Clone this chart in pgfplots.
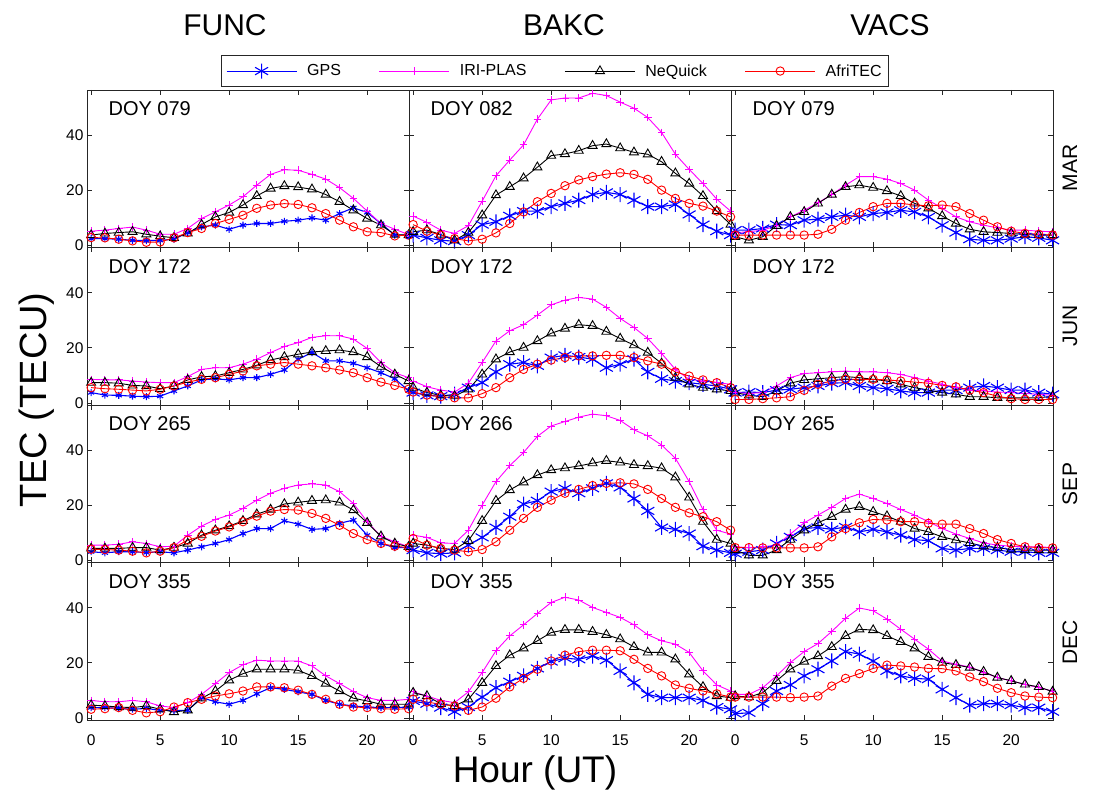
\documentclass[border=0pt]{standalone}
\usepackage{pgfplots}
\pgfplotsset{compat=1.18}
\usepackage{pgfplotstable}
\usepackage{fontspec}
\setmainfont{Liberation Sans}
\definecolor{mag}{RGB}{255,0,255}

\pgfplotstableread{
h g i n a
0 2.5 5.2 3.8 2.9
1 2.5 5.6 4.4 2.8
2 2.3 6.2 4.7 2.3
3 1.9 6.7 5.0 1.7
4 1.8 5.6 4.1 1.2
5 1.9 4.1 3.4 1.3
6 2.3 4.1 2.8 2.8
7 4.7 6.2 4.4 4.7
8 6.8 9.8 7.6 6.2
9 7.4 12.2 10.4 8.0
10 5.9 14.7 12.0 9.5
11 7.4 17.7 14.7 11.0
12 8.0 21.9 18.0 13.5
13 8.0 25.8 20.7 14.7
14 8.8 27.5 21.6 15.2
15 9.2 27.3 21.2 14.9
16 10.0 25.8 20.4 13.7
17 9.2 24.1 18.5 11.6
18 11.6 21.0 15.9 9.2
19 13.7 17.1 12.8 6.8
20 12.0 12.5 9.8 5.0
21 8.0 8.0 7.4 4.7
22 3.8 5.9 4.0 3.5
23 3.8 4.0 3.8 3.8
}\tFMar
\pgfplotstableread{
h g i n a
0 3.8 10.7 5.0 7.6
1 2.8 8.4 5.6 5.2
2 1.9 5.6 4.0 3.8
3 1.6 4.4 1.9 2.5
4 3.8 7.2 4.7 1.7
5 7.6 16.1 11.0 2.3
6 8.6 25.3 18.3 4.6
7 10.8 31.0 21.3 8.0
8 12.5 36.5 24.4 12.2
9 12.5 45.8 28.4 15.9
10 14.1 52.8 32.6 18.9
11 15.3 53.5 33.2 21.7
12 16.5 53.5 34.4 23.8
13 18.5 55.2 36.2 25.0
14 19.3 54.4 36.8 25.9
15 18.5 52.0 35.3 26.4
16 16.5 49.8 33.8 25.8
17 14.1 46.4 33.1 24.0
18 14.1 41.0 30.4 20.1
19 14.9 33.1 26.2 17.1
20 11.3 27.6 22.5 15.3
21 7.6 22.5 18.0 14.3
22 5.2 16.8 12.5 12.5
23 3.8 12.5 7.6 10.4
}\tBMar
\pgfplotstableread{
h g i n a
0 5.6 4.7 3.2 3.8
1 5.6 5.0 1.9 3.8
2 6.2 5.6 3.2 3.8
3 7.6 7.2 7.2 3.8
4 7.4 10.4 10.4 3.8
5 9.2 12.8 12.2 3.8
6 9.6 15.5 15.3 4.1
7 10.4 18.5 18.5 5.9
8 11.0 21.9 21.3 9.2
9 10.4 25.0 21.9 12.0
10 11.6 25.0 21.0 14.1
11 12.0 24.1 19.8 15.3
12 12.8 22.5 18.0 15.3
13 12.2 20.1 15.3 14.7
14 10.4 16.5 13.5 14.4
15 7.4 13.5 10.7 14.7
16 4.7 10.4 8.0 14.1
17 2.3 8.6 5.9 11.6
18 1.9 7.4 5.0 9.2
19 1.9 6.4 4.7 6.8
20 2.5 5.6 4.4 5.2
21 3.2 5.6 4.0 4.4
22 2.8 5.2 3.8 4.1
23 1.9 5.0 3.8 3.8
}\tVMar
\pgfplotstableread{
h g i n a
0 3.8 8.6 7.4 5.6
1 2.9 8.4 7.4 5.2
2 2.8 8.4 7.2 5.0
3 2.5 8.0 6.4 4.7
4 2.3 7.6 6.2 4.4
5 2.5 7.4 5.2 5.0
6 4.4 7.4 6.2 6.2
7 6.2 9.6 8.4 7.6
8 8.4 12.2 9.5 8.6
9 8.8 12.8 9.8 9.2
10 8.4 12.8 11.0 10.4
11 9.2 14.1 12.2 11.6
12 9.2 15.9 13.7 13.5
13 10.4 18.3 15.6 14.1
14 12.0 20.5 16.7 14.7
15 15.9 21.9 17.7 14.1
16 18.3 23.8 18.5 13.5
17 15.3 24.4 18.9 12.8
18 15.3 24.4 19.2 12.0
19 14.4 23.2 18.5 11.0
20 12.8 19.8 16.7 9.2
21 11.0 14.7 13.2 7.6
22 8.8 11.0 10.4 6.4
23 4.5 9.2 8.0 5.0
}\tFJun
\pgfplotstableread{
h g i n a
0 3.8 8.0 5.6 4.0
1 2.8 5.9 3.8 2.9
2 2.5 4.7 2.8 2.3
3 3.2 4.0 2.5 1.9
4 5.6 7.2 5.0 1.9
5 7.4 14.7 10.4 3.4
6 11.3 22.5 15.9 5.6
7 14.1 26.2 18.5 9.2
8 14.7 28.4 20.1 12.2
9 13.5 31.9 22.5 14.1
10 16.5 35.6 25.3 15.6
11 17.3 37.3 27.0 16.5
12 16.7 38.3 28.4 17.1
13 15.9 37.7 28.0 17.1
14 12.8 34.7 25.9 17.3
15 14.1 30.7 23.4 17.3
16 15.9 27.4 21.0 16.5
17 11.3 23.4 18.3 15.3
18 8.8 18.0 14.4 14.1
19 8.0 12.2 9.2 11.3
20 7.4 8.6 6.8 9.8
21 6.8 8.0 5.6 8.4
22 6.2 7.4 5.0 7.4
23 5.0 6.8 4.4 5.6
}\tBJun
\pgfplotstableread{
h g i n a
0 3.8 3.8 3.8 1.3
1 4.0 3.5 2.8 1.3
2 3.8 3.8 2.3 1.6
3 4.7 6.2 4.4 1.9
4 5.0 9.2 7.2 2.3
5 5.6 10.7 8.4 4.6
6 6.2 11.0 8.8 6.8
7 7.2 11.3 9.2 8.0
8 7.4 11.6 9.6 8.6
9 6.2 11.3 9.2 8.6
10 5.6 11.3 8.6 8.6
11 5.2 11.0 8.0 8.4
12 4.4 10.4 6.8 8.0
13 3.8 9.2 5.6 7.6
14 3.8 8.0 4.7 7.2
15 4.7 6.8 3.8 6.4
16 4.7 5.6 3.2 5.9
17 5.6 4.7 2.3 4.7
18 6.2 4.4 2.3 3.8
19 5.6 4.0 1.9 2.5
20 4.7 3.8 1.9 1.6
21 4.7 3.5 1.9 1.3
22 3.8 3.2 1.9 1.3
23 3.2 2.8 2.5 1.3
}\tVJun
\pgfplotstableread{
h g i n a
0 3.2 5.6 4.4 4.1
1 2.8 5.6 4.4 4.0
2 3.2 5.9 4.4 3.8
3 3.2 6.8 4.7 3.4
4 2.9 6.2 4.7 2.8
5 3.2 5.0 3.8 3.4
6 2.8 5.2 4.7 4.7
7 3.8 9.2 6.2 7.4
8 5.0 12.5 9.2 8.8
9 6.2 14.9 11.0 10.7
10 7.6 16.5 12.5 12.2
11 9.8 18.9 14.4 14.1
12 11.6 21.9 16.8 16.1
13 11.6 24.4 18.5 17.9
14 14.4 26.2 20.5 18.5
15 13.2 27.4 21.1 18.3
16 11.3 27.8 21.7 17.1
17 11.6 27.4 21.9 15.3
18 13.5 25.0 21.1 12.8
19 14.7 20.7 18.3 9.8
20 9.2 14.1 13.7 7.6
21 6.2 8.8 8.8 6.2
22 4.7 6.8 6.2 5.2
23 4.7 5.0 5.0 4.7
}\tFSep
\pgfplotstableread{
h g i n a
0 3.8 9.2 6.2 8.0
1 2.8 8.4 5.6 5.6
2 2.5 6.4 4.4 4.4
3 2.8 6.2 4.0 3.8
4 5.6 11.0 7.2 3.2
5 8.4 20.1 14.4 4.0
6 12.0 28.6 21.7 6.8
7 15.9 34.4 25.6 11.0
8 20.5 39.2 28.4 15.3
9 21.7 45.0 31.0 19.3
10 25.0 48.8 32.8 21.9
11 26.2 50.4 33.5 24.4
12 24.4 52.0 34.3 25.8
13 26.2 53.1 35.3 27.2
14 28.0 52.5 36.2 28.0
15 26.5 50.8 35.6 28.2
16 22.5 47.4 34.7 27.8
17 18.0 45.2 34.3 25.8
18 12.0 41.9 33.5 22.5
19 11.3 37.1 30.2 19.3
20 9.8 28.6 22.9 17.3
21 5.2 18.5 14.1 15.9
22 3.8 11.0 7.6 14.1
23 2.8 9.6 6.2 11.0
}\tBSep
\pgfplotstableread{
h g i n a
0 2.5 5.0 3.8 4.7
1 3.2 4.7 1.9 4.7
2 3.8 5.0 1.9 4.6
3 6.2 5.6 3.8 4.6
4 8.6 9.6 7.6 4.6
5 11.6 13.7 11.0 4.6
6 12.0 16.5 13.7 5.0
7 11.3 19.3 15.9 8.6
8 12.2 22.5 18.5 11.6
9 10.4 24.1 19.5 13.7
10 11.3 22.5 17.7 14.9
11 10.4 20.7 16.1 14.7
12 9.2 18.5 14.1 14.1
13 7.6 16.5 11.6 14.1
14 7.2 14.1 10.4 13.5
15 4.4 11.6 8.6 13.2
16 3.8 9.6 7.4 13.2
17 4.4 8.0 6.4 11.6
18 4.4 6.4 5.2 9.8
19 3.8 5.6 4.7 7.6
20 3.2 5.2 4.0 6.2
21 3.2 5.0 3.8 5.0
22 2.8 5.0 3.8 4.7
23 2.8 4.7 3.8 4.6
}\tVSep
\pgfplotstableread{
h g i n a
0 3.8 6.4 4.7 3.2
1 3.8 5.9 4.4 3.4
2 3.5 5.9 4.0 3.8
3 3.2 6.4 3.8 2.8
4 3.5 5.9 4.4 1.9
5 2.8 4.4 3.2 2.3
6 2.8 3.8 2.2 4.0
7 2.8 5.6 2.8 5.6
8 7.4 8.6 7.2 6.8
9 5.9 12.5 9.8 8.0
10 5.0 16.5 13.7 8.8
11 6.4 19.3 16.1 9.8
12 8.8 21.0 17.7 11.3
13 11.0 20.7 17.7 11.3
14 10.4 20.7 17.7 11.0
15 9.5 20.7 17.3 10.1
16 8.6 18.9 15.3 8.6
17 6.4 15.3 12.5 6.8
18 5.0 12.5 9.8 5.0
19 4.4 9.6 7.2 4.0
20 4.0 7.4 6.2 3.8
21 3.8 6.4 5.0 3.4
22 3.8 6.4 5.0 3.2
23 4.0 6.8 5.0 3.4
}\tFDec
\pgfplotstableread{
h g i n a
0 6.2 9.5 9.2 6.8
1 5.2 8.0 8.0 5.8
2 3.8 6.4 5.2 5.0
3 2.3 5.6 4.4 4.4
4 4.0 9.5 6.8 2.8
5 7.6 16.5 12.8 4.0
6 11.0 24.4 18.9 7.2
7 13.2 29.8 22.8 11.3
8 15.3 33.8 25.3 14.4
9 18.0 37.9 28.0 17.7
10 20.5 41.9 31.0 20.7
11 21.7 43.8 32.0 22.8
12 21.3 42.8 32.0 24.1
13 22.5 40.1 31.3 24.6
14 21.0 38.3 30.2 24.6
15 17.1 36.5 28.6 24.4
16 12.8 33.8 25.8 21.3
17 8.6 30.2 23.8 18.0
18 7.4 28.0 23.8 15.3
19 7.4 26.8 21.3 12.0
20 7.4 23.8 15.9 10.8
21 6.4 17.1 11.3 9.8
22 4.0 12.0 8.0 8.8
23 3.2 9.8 7.4 7.6
}\tBDec
\pgfplotstableread{
h g i n a
0 1.6 8.6 8.0 7.6
1 1.9 8.6 7.6 7.6
2 5.2 11.0 9.2 7.6
3 9.8 15.3 13.5 7.6
4 12.0 20.1 17.7 7.4
5 15.3 24.1 20.5 7.6
6 17.7 27.0 22.5 8.0
7 20.7 31.4 25.8 11.6
8 24.1 36.2 29.8 14.4
9 23.2 39.9 32.2 16.1
10 20.7 38.9 31.9 18.0
11 17.1 35.9 29.8 19.2
12 15.3 32.2 27.6 18.9
13 14.4 28.6 25.3 18.5
14 14.1 25.0 22.2 18.0
15 10.4 20.7 20.1 17.9
16 7.4 19.5 19.3 17.1
17 4.7 18.5 18.3 14.9
18 5.2 16.5 16.8 13.2
19 5.2 14.7 14.7 10.8
20 4.7 13.5 13.5 9.2
21 3.8 12.2 12.2 8.0
22 3.8 11.0 11.3 7.6
23 2.3 9.8 9.6 7.4
}\tVDec

\pgfplotsset{
  panel/.style={
    anchor=south west, scale only axis, width=322pt, height=157.5pt,
    xmin=-0.3, xmax=23.03, ymin=-0.7, ymax=56.4,
    xtick={0,5,10,15,20}, ytick={0,20,40},
    tick align=inside, major tick length=5pt,
    xticklabels={}, yticklabels={},
    axis line style={line width=0.9pt, black!85},
    every tick/.style={line width=0.9pt, black!85},
    ticklabel style={font=\fontsize{15.5}{15.5}\selectfont},
    xticklabel style={yshift=-11pt},
    /pgf/number format/assume math mode=true,
  },
  xlab/.style={xticklabels={0,5,10,15,20}},
  ylab/.style={yticklabels={0,20,40}},
  gps/.style={blue, line width=1.1pt, mark=asterisk, mark size=#1, mark options={solid, line width=1.1pt}},
  iri/.style={mag, line width=0.9pt, mark=+, mark size=3.8pt, mark options={solid, line width=0.9pt}},
  neq/.style={black, line width=0.9pt, mark=triangle, mark size=5.2pt, mark options={solid, line width=0.9pt}},
  afr/.style={red, line width=0.9pt, mark=o, mark size=4.2pt, mark options={solid, line width=0.9pt}},
  withlegend/.style={
    legend entries={GPS,IRI-PLAS,NeQuick,AfriTEC},
    legend columns=4,
    legend image code/.code={\draw[mark repeat=2,mark phase=2,##1] plot coordinates {(0pt,0pt) (35pt,0pt) (70pt,0pt)};},
    legend style={at={(0.453,1.019)}, anchor=south, draw=black!85, line width=0.8pt,
      font=\fontsize{16}{16}\selectfont, inner xsep=5pt, inner ysep=7pt,
      /tikz/every even column/.append style={column sep=36pt},
      /tikz/every odd column/.append style={column sep=8pt}},
  },
}

\newcommand{\panel}[6]{%
\begin{axis}[panel, at={(#1pt,#2pt)}, #5]
\addplot[gps=#6] table[x=h,y=g]{#3};
\addplot[iri] table[x=h,y=i]{#3};
\addplot[neq] table[x=h,y=n]{#3};
\addplot[afr] table[x=h,y=a]{#3};
\node[anchor=west, font=\fontsize{20}{20}\selectfont] at (rel axis cs:0.056,0.879) {DOY #4};
\end{axis}}

\begin{document}
\begin{tikzpicture}
\path[use as bounding box] (0,0) rectangle (1093pt,796pt);
\panel{87}{548.5}{\tFMar}{079}{ylab}{3.5pt}
\panel{409}{548.5}{\tBMar}{082}{withlegend}{7.5pt}
\panel{731}{548.5}{\tVMar}{079}{}{7.5pt}
\panel{87}{391}{\tFJun}{172}{ylab}{3.5pt}
\panel{409}{391}{\tBJun}{172}{}{7.5pt}
\panel{731}{391}{\tVJun}{172}{}{7.5pt}
\panel{87}{233.5}{\tFSep}{265}{ylab}{3.5pt}
\panel{409}{233.5}{\tBSep}{266}{}{7.5pt}
\panel{731}{233.5}{\tVSep}{265}{}{7.5pt}
\panel{87}{76}{\tFDec}{355}{ylab,xlab}{3.5pt}
\panel{409}{76}{\tBDec}{355}{xlab}{7.5pt}
\panel{731}{76}{\tVDec}{355}{xlab}{7.5pt}
\node[font=\fontsize{30}{30}\selectfont] at (225pt,771pt) {FUNC};
\node[font=\fontsize{30}{30}\selectfont] at (564pt,771pt) {BAKC};
\node[font=\fontsize{30}{30}\selectfont] at (890pt,771pt) {VACS};
\node[rotate=90, font=\fontsize{21}{21}\selectfont] at (1070pt,628pt) {MAR};
\node[rotate=90, font=\fontsize{21}{21}\selectfont] at (1070pt,470pt) {JUN};
\node[rotate=90, font=\fontsize{21}{21}\selectfont] at (1070pt,312pt) {SEP};
\node[rotate=90, font=\fontsize{21}{21}\selectfont] at (1070pt,154pt) {DEC};
\node[rotate=90, font=\fontsize{38}{38}\selectfont] at (37pt,396pt) {TEC (TECU)};
\node[font=\fontsize{37}{37}\selectfont] at (535pt,23pt) {Hour (UT)};
\end{tikzpicture}
\end{document}
